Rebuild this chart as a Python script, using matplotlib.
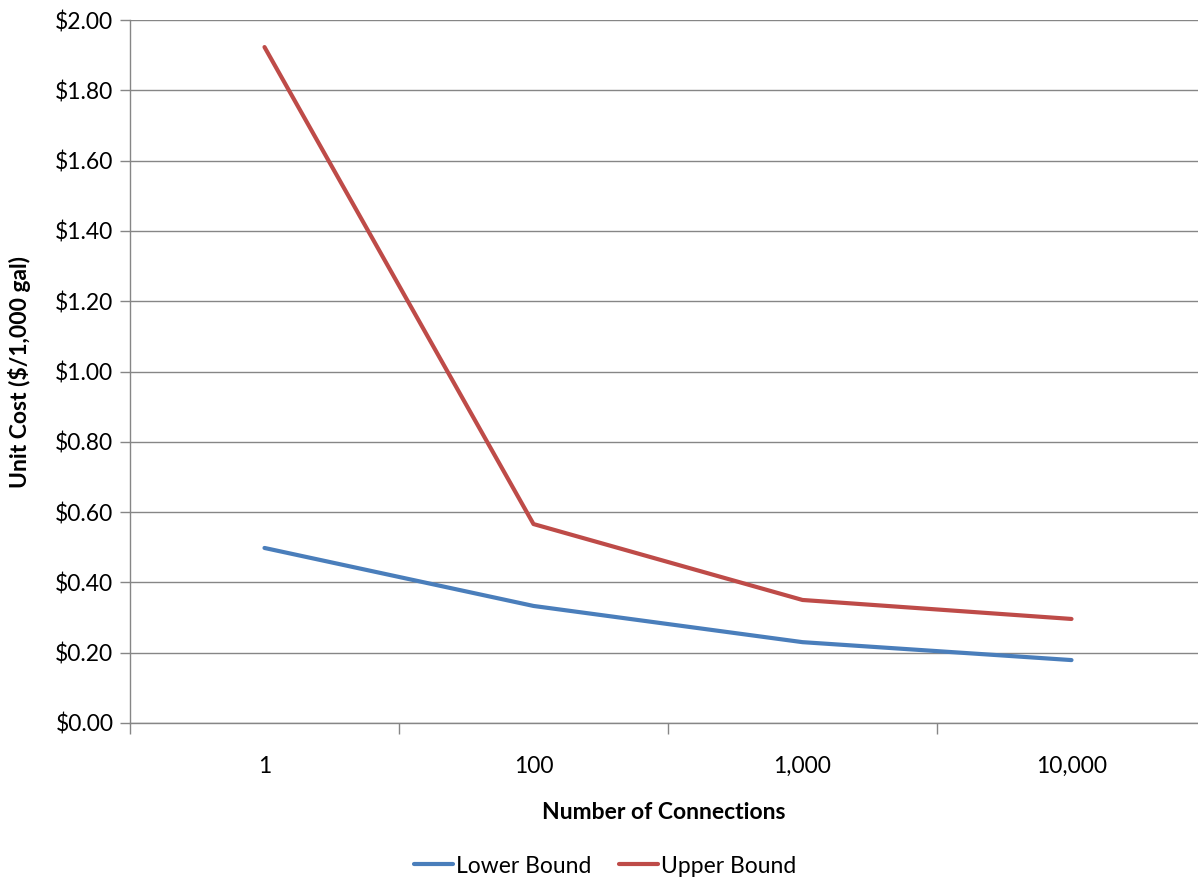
import matplotlib
matplotlib.use("Agg")
import matplotlib.pyplot as plt
from matplotlib.ticker import FuncFormatter, FixedLocator

categories = ["1", "100", "1,000", "10,000"]
lower_bound = [0.498, 0.333, 0.230, 0.179]
upper_bound = [1.923, 0.566, 0.350, 0.296]
series_names = ["Lower Bound", "Upper Bound"]

plt.rcParams['font.family'] = ['Lato', 'DejaVu Sans']
FS = 16.5

fig = plt.figure(figsize=(11.98, 8.8), dpi=100)
ax = fig.add_axes([130/1198, 1 - 723/880, 1 - 130/1198, 703/880])

x = list(range(len(categories)))
ax.plot(x, lower_bound, color="#4A7EBB", lw=3.0, label=series_names[0], solid_capstyle="round", solid_joinstyle="round")
ax.plot(x, upper_bound, color="#BE4B48", lw=3.0, label=series_names[1], solid_capstyle="round", solid_joinstyle="round")

ax.set_ylim(0, 2.0)
ax.set_xlim(-0.5, 3.5 - 8/269)
ax.set_yticks([i * 0.2 for i in range(11)])
ax.yaxis.set_major_formatter(FuncFormatter(lambda v, p: f"${v:.2f}"))
ax.grid(axis="y", color="#868686", lw=1.0)
ax.set_axisbelow(True)

ax.set_xticks(x)
ax.set_xticklabels(categories)
ax.xaxis.set_minor_locator(FixedLocator([-0.5, 0.5, 1.5, 2.5]))
ax.tick_params(axis="x", which="major", length=0, pad=24, labelsize=FS)
ax.tick_params(axis="x", which="minor", length=8, color="#868686", width=1)
ax.tick_params(axis="y", length=7, color="#868686", width=1, labelsize=FS, pad=5)

for s in ["top", "right"]:
    ax.spines[s].set_visible(False)
for s in ["left", "bottom"]:
    ax.spines[s].set_color("#868686")
    ax.spines[s].set_linewidth(1.0)

ax.set_xlabel("Number of Connections", fontsize=FS, fontweight="bold", labelpad=18)
fig.text(20/1198, 1 - 371.5/880, "Unit Cost ($/1,000 gal)", fontsize=FS, fontweight="bold",
         rotation=90, ha="center", va="center")

leg = fig.legend(loc="center", bbox_to_anchor=(605/1198, 1 - 866/880), ncol=2, frameon=False,
                 fontsize=FS, handlelength=1.7, handletextpad=0.15, columnspacing=1.2)

fig.savefig("out.png", dpi=100)
